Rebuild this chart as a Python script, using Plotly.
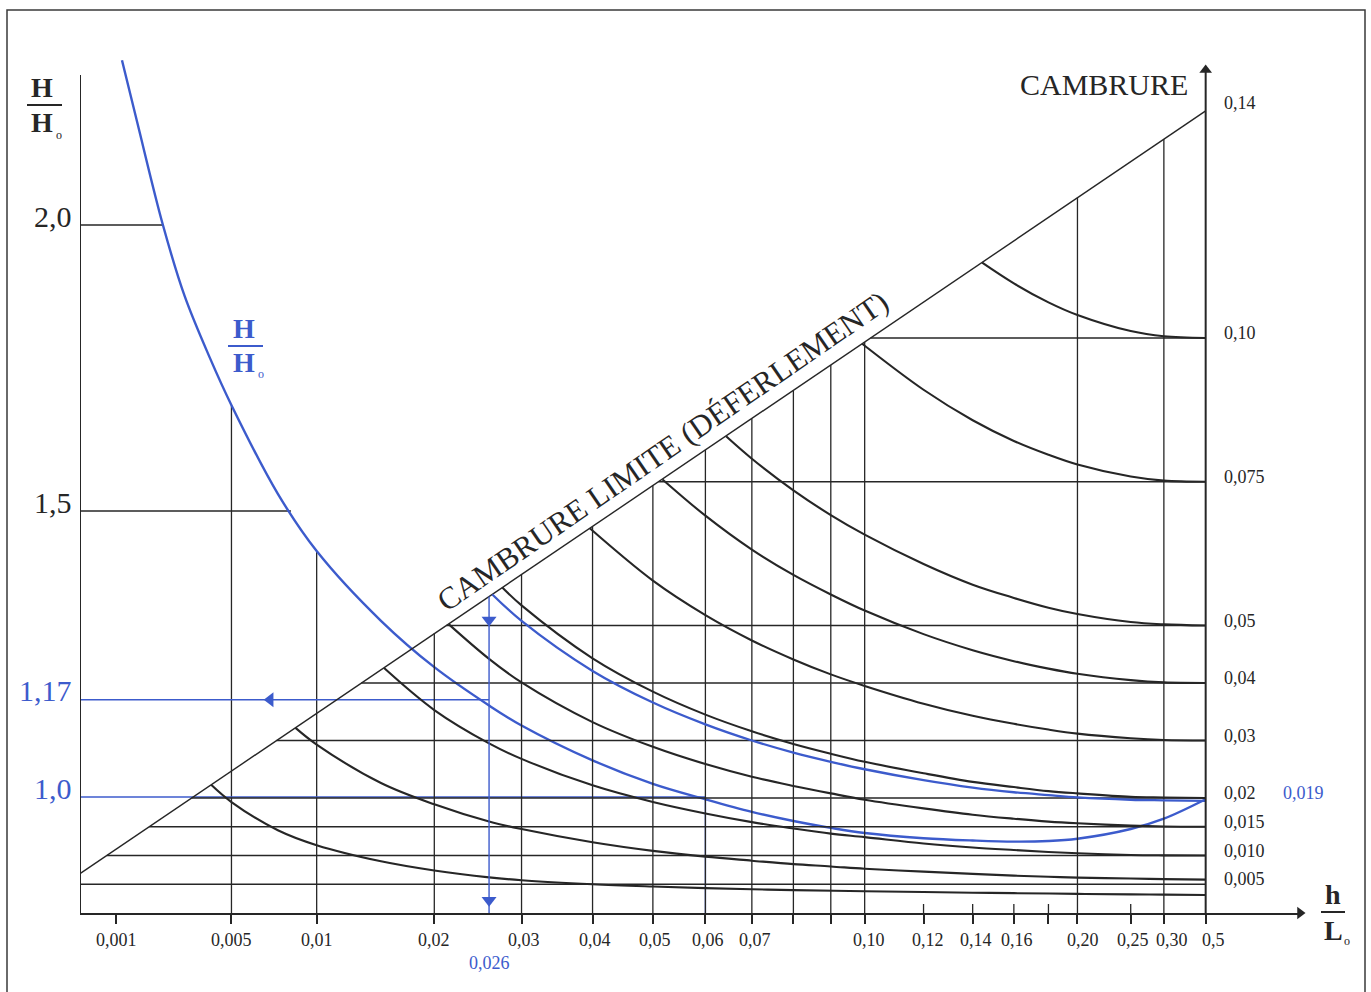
import numpy as np
import plotly.graph_objects as go

# ======================= DATA =======================
# x axis: relative depth h/L0
x_tick_vals = [0.001, 0.005, 0.01, 0.02, 0.03, 0.04, 0.05, 0.06, 0.07, 0.10,
               0.12, 0.14, 0.16, 0.20, 0.25, 0.30, 0.5]
x_tick_text = ["0,001", "0,005", "0,01", "0,02", "0,03", "0,04", "0,05", "0,06",
               "0,07", "0,10", "0,12", "0,14", "0,16", "0,20", "0,25", "0,30", "0,5"]
x_label_shift = [0, 0, 0, 0, 2, 2, 2, 3, 3, 4, 4, 3, 3, 6, 2, 8, 8]
x_minor_ticks = [0.08, 0.09, 0.18]
x_cross_ticks = [0.12, 0.14, 0.16, 0.18, 0.25]

# vertical guide lines up to the breaking limit
grid_v_limit = [0.02, 0.03, 0.04, 0.05, 0.06, 0.07, 0.08, 0.09, 0.10, 0.20, 0.30]
# vertical guide lines up to the H/H0 curve
grid_v_curve_hL0 = [0.005, 0.01]
grid_v_curve_hh0 = [1.685, 1.43]

# left axis H/H0
hh0_levels = [2.0, 1.5]
hh0_levels_hL0 = [0.00225, 0.0083]
left_label_vals = [2.0, 1.5, 1.17, 1.0]
left_label_text = ["2,0", "1,5", "1,17", "1,0"]
left_label_blue = [False, False, True, True]

# right axis CAMBRURE
camb_max = 0.14
camb_levels = [0.005, 0.010, 0.015, 0.02, 0.03, 0.04, 0.05, 0.075, 0.10]
camb_tick_vals = [0.005, 0.010, 0.015, 0.02, 0.03, 0.04, 0.05, 0.075, 0.10, 0.14]
camb_tick_text = ["0,005", "0,010", "0,015", "0,02", "0,03", "0,04", "0,05",
                  "0,075", "0,10", "0,14"]
deep_hL0 = 0.5

# H/H0 curve (blue)
hh0_hL0 = [0.00113, 0.0015, 0.00225, 0.003, 0.004, 0.005, 0.0075, 0.01,
           0.015, 0.02, 0.026, 0.03, 0.04, 0.05, 0.06, 0.07, 0.08, 0.09, 0.10,
           0.12, 0.14, 0.16, 0.18, 0.20, 0.25, 0.30, 0.5]
hh0_val = [2.288, 2.180, 2.000, 1.876, 1.769, 1.685, 1.530, 1.430,
           1.308, 1.227, 1.160, 1.125, 1.064, 1.023, 0.996, 0.974, 0.958, 0.946, 0.937,
           0.928, 0.924, 0.922, 0.923, 0.927, 0.944, 0.962, 0.996]

# steepness curves (cambrure vs h/L0), black
c002_hL0 = [0.00407, 0.005, 0.0075, 0.01, 0.015, 0.02, 0.026, 0.03, 0.04, 0.05, 0.06,
            0.07, 0.08, 0.10, 0.12, 0.14, 0.16, 0.20, 0.25, 0.30, 0.5]
c002_val = [0.0223, 0.0193, 0.0144, 0.0118, 0.0090, 0.0074, 0.0062, 0.0057, 0.0050,
            0.0046, 0.00432, 0.00412, 0.00398, 0.00378, 0.00364, 0.00353, 0.00345,
            0.00333, 0.00324, 0.00319, 0.00314]
c005_hL0 = [0.00859, 0.01, 0.015, 0.02, 0.026, 0.03, 0.04, 0.05, 0.06, 0.07, 0.08,
            0.09, 0.10, 0.12, 0.14, 0.16, 0.18, 0.20, 0.25, 0.30, 0.5]
c005_val = [0.0322, 0.0293, 0.0226, 0.0189, 0.0159, 0.0146, 0.0123, 0.0108, 0.0098,
            0.0091, 0.0085, 0.0081, 0.0077, 0.0072, 0.0068, 0.0065, 0.0063, 0.00615,
            0.0060, 0.0059, 0.0058]
c010_hL0 = [0.01527, 0.02, 0.026, 0.03, 0.04, 0.05, 0.06, 0.07, 0.08, 0.09, 0.10,
            0.12, 0.14, 0.16, 0.18, 0.20, 0.25, 0.30, 0.5]
c010_val = [0.0426, 0.0353, 0.0295, 0.0268, 0.0222, 0.0193, 0.0173, 0.0158, 0.0147,
            0.0138, 0.0132, 0.0121, 0.0114, 0.01095, 0.0106, 0.0104, 0.0101, 0.01003,
            0.0100]
c015_hL0 = [0.02151, 0.026, 0.03, 0.04, 0.05, 0.06, 0.07, 0.08, 0.09, 0.10, 0.12,
            0.14, 0.16, 0.18, 0.20, 0.25, 0.30, 0.5]
c015_val = [0.0502, 0.0442, 0.0401, 0.0332, 0.0289, 0.0259, 0.0237, 0.0221, 0.0208,
            0.0197, 0.0182, 0.0171, 0.0164, 0.0159, 0.0156, 0.0152, 0.01505, 0.0150]
c020_hL0 = [0.02759, 0.03, 0.04, 0.05, 0.06, 0.07, 0.08, 0.09, 0.10, 0.12, 0.14,
            0.16, 0.18, 0.20, 0.25, 0.30, 0.5]
c020_val = [0.0566, 0.0535, 0.0443, 0.0385, 0.0345, 0.0316, 0.0294, 0.0277, 0.0263,
            0.0243, 0.0228, 0.0219, 0.0212, 0.0208, 0.0202, 0.0201, 0.0200]
c030_hL0 = [0.03958, 0.05, 0.06, 0.07, 0.08, 0.09, 0.10, 0.12, 0.14, 0.16, 0.18,
            0.20, 0.25, 0.30, 0.5]
c030_val = [0.0669, 0.0578, 0.0518, 0.0474, 0.0441, 0.0415, 0.0395, 0.0364, 0.0343,
            0.0329, 0.0319, 0.0312, 0.0304, 0.0301, 0.0300]
c040_hL0 = [0.05174, 0.06, 0.07, 0.08, 0.09, 0.10, 0.12, 0.14, 0.16, 0.18, 0.20,
            0.25, 0.30, 0.5]
c040_val = [0.0754, 0.0691, 0.0632, 0.0588, 0.0554, 0.0526, 0.0485, 0.0457, 0.0438,
            0.0425, 0.0416, 0.0405, 0.0401, 0.0400]
c050_hL0 = [0.06431, 0.07, 0.08, 0.09, 0.10, 0.12, 0.14, 0.16, 0.18, 0.20, 0.25,
            0.30, 0.5]
c050_val = [0.0829, 0.0790, 0.0735, 0.0692, 0.0658, 0.0607, 0.0571, 0.0548, 0.0531,
            0.0520, 0.0506, 0.0502, 0.0500]
c075_hL0 = [0.09922, 0.12, 0.14, 0.16, 0.18, 0.20, 0.25, 0.30, 0.5]
c075_val = [0.0990, 0.0910, 0.0857, 0.0821, 0.0797, 0.0780, 0.0759, 0.0752, 0.0750]
c100_hL0 = [0.14431, 0.16, 0.18, 0.20, 0.25, 0.30, 0.5]
c100_val = [0.1131, 0.1095, 0.1062, 0.1040, 0.1012, 0.1003, 0.1000]

# worked example (blue)
ex_camb_text = "0,019"
c019_hL0 = [0.02639, 0.03, 0.04, 0.05, 0.06, 0.07, 0.08, 0.09, 0.10, 0.12, 0.14,
            0.16, 0.18, 0.20, 0.25, 0.30, 0.5]
c019_val = [0.0554, 0.0508, 0.0421, 0.0366, 0.0328, 0.0300, 0.0279, 0.0263, 0.0250,
            0.0231, 0.0218, 0.0210, 0.0205, 0.0201, 0.0197, 0.0196, 0.0195]
ex_break_hL0 = 0.026
ex_break_text = "0,026"
ex_break_hh0 = 1.17
ex_unit_hL0 = 0.06
ex_unit_hh0 = 1.0

# ======================= SCALE (x is linear in L/L0 = tanh kh) ==============
def l_over_l0(h_l0):
    w = 2 * np.pi * np.asarray(h_l0, dtype=float)
    k = np.where(w < 1, np.sqrt(w), w)
    for _ in range(60):
        th = np.tanh(k)
        k = k - (k * th - w) / (th + k * (1 - th ** 2))
    return np.tanh(k)


X = l_over_l0

# layout geometry (pixels)
W, H = 1371, 992
PL, PR, PT, PB = 80, 1300, 55, 913
X_OFF, X_SCALE = 22.0, 1188.0
Y2_SCALE = 5750.0
HH0_ONE_PX, HH0_SCALE = 797.0, 572.0

x_range = [(PL - X_OFF) / X_SCALE, (PR - X_OFF) / X_SCALE]
y2_range = [0.0, (PB - PT) / Y2_SCALE]
y_range = [1 - (PB - HH0_ONE_PX) / HH0_SCALE, 1 + (HH0_ONE_PX - PT) / HH0_SCALE]


def pxx(p):
    return (p - PL) / (PR - PL)


def pxy(p):
    return (PB - p) / (PB - PT)


INK = "#262626"
BLUE = "#3c5bcc"
SERIF = "Liberation Serif, Times New Roman, serif"

fig = go.Figure()


def line(x, y, axis="y2", color=INK, width=1.3, shape="linear"):
    fig.add_trace(go.Scatter(x=list(x), y=list(y), yaxis=axis, mode="lines",
                             line=dict(color=color, width=width, shape=shape,
                                       smoothing=1.0 if shape == "spline" else None),
                             hoverinfo="skip", showlegend=False))


def marker(x, y, symbol, axis="y2", color=BLUE, size=13):
    fig.add_trace(go.Scatter(x=[x], y=[y], yaxis=axis, mode="markers",
                             marker=dict(symbol=symbol, size=size, color=color,
                                         line=dict(width=0)),
                             cliponaxis=False, hoverinfo="skip", showlegend=False))


x_deep = float(X(deep_hL0))

# breaking limit line: cambrure = camb_max * L/L0
line([x_range[0], x_deep], [camb_max * x_range[0], camb_max * x_deep], width=1.4)

# horizontal cambrure lines from limit to deep-water axis
for lv in camb_levels:
    x0 = max(lv / camb_max, x_range[0])
    line([x0, x_deep], [lv, lv], width=1.3)

# vertical guide lines
for v in grid_v_limit:
    xv = float(X(v))
    line([xv, xv], [0, camb_max * xv], width=1.3)
for v, hv in zip(grid_v_curve_hL0, grid_v_curve_hh0):
    xv = float(X(v))
    line([xv, xv], [y_range[0], hv], axis="y", width=1.3)

# left horizontal lines to the H/H0 curve
for lv, hv in zip(hh0_levels, hh0_levels_hL0):
    line([x_range[0], float(X(hv))], [lv, lv], axis="y", width=1.3)

# small ticks crossing the x axis
for v in x_cross_ticks:
    xv = float(X(v))
    line([xv, xv], [0, 9 / Y2_SCALE], width=1.3)

# black steepness curves
for hx, cv in [(c002_hL0, c002_val), (c005_hL0, c005_val), (c010_hL0, c010_val),
               (c015_hL0, c015_val), (c020_hL0, c020_val), (c030_hL0, c030_val),
               (c040_hL0, c040_val), (c050_hL0, c050_val), (c075_hL0, c075_val),
               (c100_hL0, c100_val)]:
    line(X(hx), cv, width=2.1, shape="spline")

# ---- worked example, blue ----
xb = float(X(ex_break_hL0))
xu = float(X(ex_unit_hL0))
line([x_range[0], xb], [ex_break_hh0, ex_break_hh0], axis="y", color=BLUE, width=1.4)
line([x_range[0], xu], [ex_unit_hh0, ex_unit_hh0], axis="y", color=BLUE, width=1.4)
line([xu, xu], [y_range[0], ex_unit_hh0], axis="y", color=BLUE, width=1.4)
line([xb, xb], [0, camb_max * xb], color=BLUE, width=1.4)
marker(x_range[0] + 0.465 * (xb - x_range[0]), ex_break_hh0, "triangle-left", axis="y")
marker(xb, 0.926 * camb_max * xb, "triangle-down")
marker(xb, 0.0022, "triangle-down")

line(X(c019_hL0), c019_val, color=BLUE, width=2.3, shape="spline")
line(X(hh0_hL0), hh0_val, axis="y", color=BLUE, width=2.4, shape="spline")

# ---- axes drawn as lines ----
y_left_top = 1 + (HH0_ONE_PX - 75) / HH0_SCALE
line([x_range[0], x_range[0]], [y_range[0], y_left_top], axis="y", width=2.0)
y2_right_top = (PB - 70) / Y2_SCALE
line([x_deep, x_deep], [0, y2_right_top], width=2.0)
marker(x_deep, y2_right_top, "triangle-up", color=INK, size=11)
marker(x_range[1], 0, "triangle-right", color=INK, size=11)

# ======================= LAYOUT =======================
fig.update_layout(
    width=W, height=H,
    margin=dict(l=PL, r=W - PR, t=PT, b=H - PB, pad=0),
    paper_bgcolor="white", plot_bgcolor="white",
    showlegend=False,
    xaxis=dict(range=x_range, showgrid=False, zeroline=False, showline=True,
               linecolor=INK, linewidth=2,
               tickmode="array",
               tickvals=list(X(x_tick_vals)) + list(X(x_minor_ticks)),
               ticktext=[""] * (len(x_tick_vals) + len(x_minor_ticks)),
               ticks="outside", ticklen=9, tickwidth=1.5, tickcolor=INK,
               showticklabels=True),
    yaxis=dict(range=y_range, showgrid=False, zeroline=False, showline=False,
               showticklabels=False, ticks=""),
    yaxis2=dict(range=y2_range, overlaying="y", side="right", showgrid=False,
                zeroline=False, showline=False, showticklabels=False, ticks=""),
)

# x axis labels
for v, t, s in zip(x_tick_vals, x_tick_text, x_label_shift):
    fig.add_annotation(x=float(X(v)), xref="x", y=pxy(940), yref="paper", text=t,
                       showarrow=False, xanchor="center", yanchor="middle", xshift=s,
                       font=dict(family=SERIF, size=18, color=INK))

# left axis labels
for v, t, b in zip(left_label_vals, left_label_text, left_label_blue):
    fig.add_annotation(x=0, xref="paper", y=v, yref="y", text=t, showarrow=False,
                       xanchor="right", yanchor="middle", xshift=-6, yshift=9,
                       font=dict(family=SERIF, size=30, color=BLUE if b else INK))

# right axis labels
for v, t in zip(camb_tick_vals, camb_tick_text):
    fig.add_annotation(x=x_deep, xref="x", y=v, yref="y2", text=t, showarrow=False,
                       xanchor="left", yanchor="middle", xshift=16, yshift=5,
                       font=dict(family=SERIF, size=18, color=INK))
fig.add_annotation(x=x_deep, xref="x", y=0.02, yref="y2", text=ex_camb_text,
                   showarrow=False, xanchor="left", yanchor="middle", xshift=75, yshift=5,
                   font=dict(family=SERIF, size=18, color=BLUE))

# blue x label
fig.add_annotation(x=xb, xref="x", y=pxy(963), yref="paper", text=ex_break_text,
                   showarrow=False, xanchor="center", yanchor="middle",
                   font=dict(family=SERIF, size=18, color=BLUE))


def text(xp, yp, s, size, color=INK, angle=0, xanchor="center"):
    fig.add_annotation(x=pxx(xp), y=pxy(yp), xref="paper", yref="paper", text=s,
                       showarrow=False, xanchor=xanchor, yanchor="middle",
                       textangle=angle, font=dict(family=SERIF, size=size, color=color))


def bar(x0, x1, yp, color=INK):
    fig.add_shape(type="line", xref="paper", yref="paper", x0=pxx(x0), x1=pxx(x1),
                  y0=pxy(yp), y1=pxy(yp), line=dict(color=color, width=2))


# CAMBRURE title
text(1190, 84, "CAMBRURE", 30, xanchor="right")
# limit text along the diagonal
text(662, 451, "CAMBRURE LIMITE (DÉFERLEMENT)", 31, angle=-34.5)

# H/H0 label top-left
text(42, 88, "<b>H</b>", 28)
bar(27, 62, 105)
text(42, 123, "<b>H</b>", 28)
text(59, 135, "o", 12)
# blue H/H0 label on the curve
text(244, 329, "<b>H</b>", 28, color=BLUE)
bar(228, 263, 346, color=BLUE)
text(244, 363, "<b>H</b>", 28, color=BLUE)
text(261, 374, "o", 12, color=BLUE)
# h/L0 label
text(1333, 894, "<b>h</b>", 28)
bar(1321, 1345, 912)
text(1333, 930, "<b>L</b>", 28)
text(1347, 941, "o", 12)

# scan frame
fig.add_shape(type="rect", xref="paper", yref="paper",
              x0=pxx(7), x1=pxx(1365), y0=pxy(1010), y1=pxy(10),
              line=dict(color="#3a3a3a", width=1.5))

fig.write_html("out.html", config={"displayModeBar": False},
               post_script="document.body.style.margin='0px';document.body.style.overflow='hidden';")
